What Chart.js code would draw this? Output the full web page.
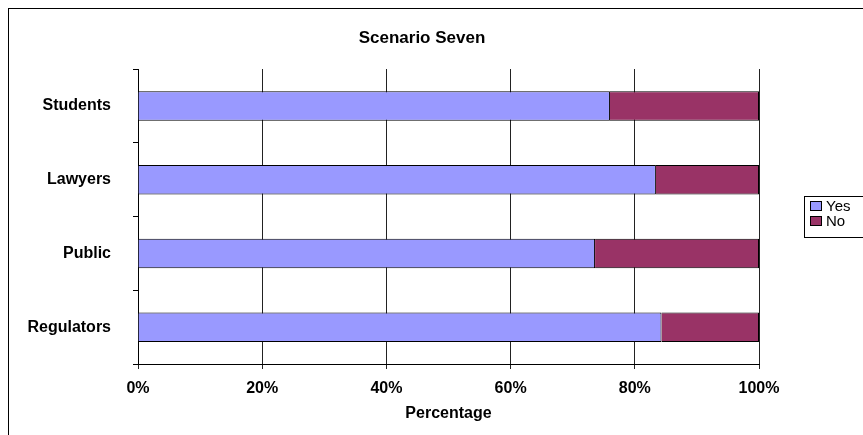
<!DOCTYPE html>
<html>
<head>
<meta charset="utf-8">
<script src="https://cdn.jsdelivr.net/npm/chart.js@4/dist/chart.umd.min.js"></script>
<style>
  body { margin: 0; background: #fff; }
  #wrap { width: 863px; height: 435px; }
</style>
</head>
<body>
<div id="wrap"><canvas id="grafico"></canvas></div>
<script>
// ==================================== DATA =========================================//

const chartTitle = "Scenario Seven";
const axisTitle = "Percentage";
const labels = ["Students", "Lawyers", "Public", "Regulators"];
const yesValues = [76, 83.4, 73.6, 84.3];
const noValues = [24, 16.6, 26.4, 15.7];
const xTicks = ["0%", "20%", "40%", "60%", "80%", "100%"];

const FONT = "'Liberation Sans', Arial, sans-serif";

// ==================================== PLUGINS =========================================//

// outer frame + title + legend, like the excel sheet
const decor = {
  id: "decor",
  afterDraw(chart) {
    const ctx = chart.ctx;
    ctx.save();
    ctx.strokeStyle = "#000";
    ctx.lineWidth = 1;
    ctx.strokeRect(8.5, 8.5, 900, 500);

    ctx.fillStyle = "#000";
    ctx.font = "bold 17px " + FONT;
    ctx.textAlign = "center";
    ctx.textBaseline = "middle";
    ctx.fillText(chartTitle, 422, 38);

    // legend
    ctx.strokeRect(804.5, 196.5, 100, 41);
    ctx.font = "15px " + FONT;
    ctx.textAlign = "left";
    chart.data.datasets.forEach((ds, i) => {
      const y = 201 + i * 15;
      ctx.fillStyle = ds.backgroundColor;
      ctx.fillRect(810, y, 12, 10);
      ctx.strokeRect(810.5, y + 0.5, 11, 9);
      ctx.fillStyle = "#000";
      ctx.fillText(ds.label, 826, y + 5.5);
    });
    ctx.restore();
  },
};

// ==================================== GRAFICO =========================================//

const data = {
  labels: labels,
  datasets: [
    {
      label: "Yes",
      backgroundColor: "#9999FF",
      borderColor: "#000",
      borderWidth: 1,
      data: yesValues,
    },
    {
      label: "No",
      backgroundColor: "#993366",
      borderColor: "#000",
      borderWidth: 1,
      data: noValues,
    },
  ],
};

const config = {
  type: "bar",
  data: data,
  options: {
    indexAxis: "y",
    responsive: true,
    maintainAspectRatio: false,
    animation: false,
    barPercentage: 0.4,
    categoryPercentage: 1,
    layout: { padding: { left: 8, top: 69, right: 104, bottom: 11 } },
    plugins: {
      legend: { display: false },
      title: { display: false },
      tooltip: { enabled: false },
    },
    scales: {
      x: {
        stacked: true,
        min: 0,
        max: 100,
        afterFit: (scale) => { scale.height = 60; },
        ticks: {
          stepSize: 20,
          color: "#000",
          padding: 10,
          font: { family: FONT, size: 16, weight: "bold" },
          callback: (v, i) => xTicks[i],
        },
        grid: { color: "#222", lineWidth: 1, tickLength: 5 },
        border: { color: "#000", width: 1 },
        title: {
          display: true,
          text: axisTitle,
          color: "#000",
          padding: { top: 0, bottom: 1 },
          font: { family: FONT, size: 16, weight: "bold" },
        },
      },
      y: {
        stacked: true,
        afterFit: (scale) => { scale.width = 130; },
        ticks: {
          color: "#000",
          padding: 22,
          font: { family: FONT, size: 16, weight: "bold" },
        },
        grid: { drawOnChartArea: false, color: "#000", tickLength: 5, offset: true },
        border: { color: "#000", width: 1 },
      },
    },
  },
  plugins: [decor],
};

const grafico = new Chart(document.getElementById("grafico"), config);
</script>
</body>
</html>
